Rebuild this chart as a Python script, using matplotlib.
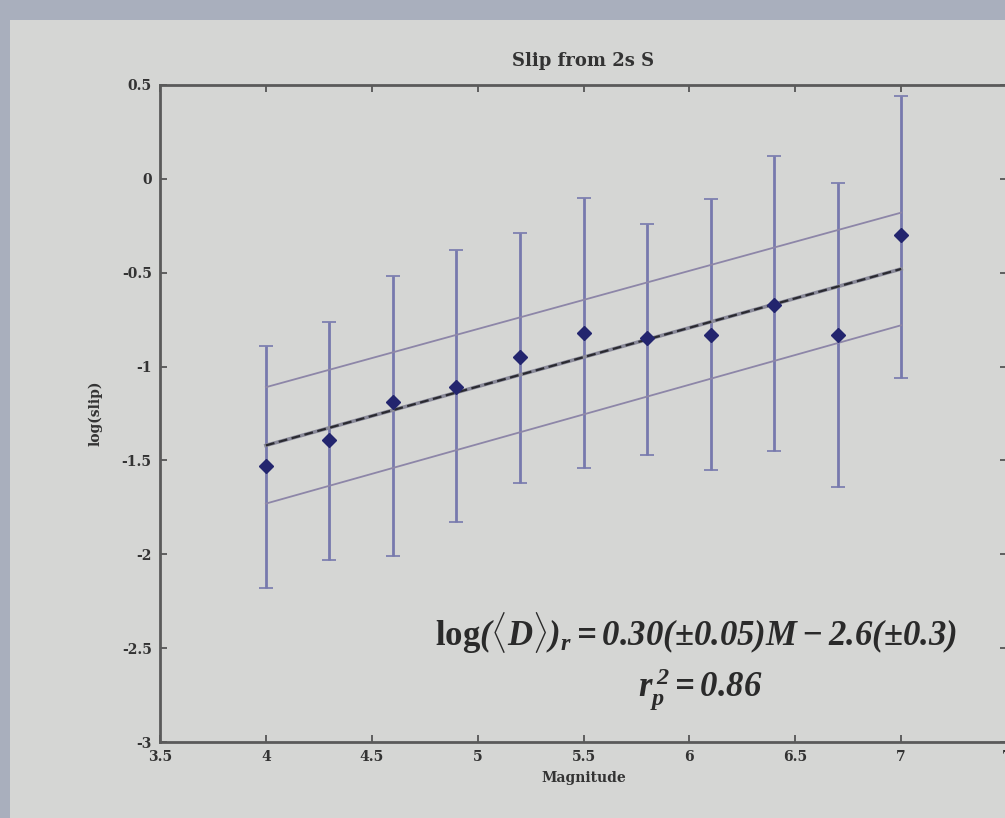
import matplotlib.pyplot as plt
from matplotlib.patches import Rectangle

# magnitude bins and mean log(slip) with +/- 1 sigma bars
magnitude = [4.0, 4.3, 4.6, 4.9, 5.2, 5.5, 5.8, 6.1, 6.4, 6.7, 7.0]
log_slip = [-1.53, -1.39, -1.19, -1.11, -0.95, -0.82, -0.85, -0.83, -0.67, -0.83, -0.30]
err_top = [-0.89, -0.76, -0.52, -0.38, -0.29, -0.10, -0.24, -0.11, 0.12, -0.02, 0.44]
err_bottom = [-2.18, -2.03, -2.01, -1.83, -1.62, -1.54, -1.47, -1.55, -1.45, -1.64, -1.06]

# regression line and its bounds, end points
fit_x = [4.0, 7.0]
fit_y = [-1.42, -0.48]
upper_y = [-1.11, -0.18]
lower_y = [-1.73, -0.78]

xticks = [3.5, 4, 4.5, 5, 5.5, 6, 6.5, 7, 7.5]
xticklabels = ['3.5', '4', '4.5', '5', '5.5', '6', '6.5', '7', '7']
yticks = [-3, -2.5, -2, -1.5, -1, -0.5, 0, 0.5]
yticklabels = ['-3', '-2.5', '-2', '-1.5', '-1', '-0.5', '0', '0.5']

plt.rcParams['font.family'] = ['DejaVu Serif']
# italic digits in the equation: rm is italic, "log" uses bf (upright)
plt.rcParams['mathtext.fontset'] = 'custom'
plt.rcParams['mathtext.rm'] = 'Liberation Serif:italic:bold'
plt.rcParams['mathtext.it'] = 'Liberation Serif:italic:bold'
plt.rcParams['mathtext.bf'] = 'Liberation Serif:bold'

bg = '#d5d6d4'
ink = '#333333'
fig = plt.figure(figsize=(10.05, 8.18), dpi=100, facecolor='#a9afbd')
# light panel of the projected slide
fig.patches.append(Rectangle((0.010, 0), 0.99, 0.975, transform=fig.transFigure,
                             facecolor=bg, edgecolor='none', zorder=-10))

ax = fig.add_axes([0.1592, 0.0929, 0.8428, 0.8032])
ax.set_facecolor(bg)

lower_err = [y - b for y, b in zip(log_slip, err_bottom)]
upper_err = [t - y for y, t in zip(log_slip, err_top)]
ax.errorbar(magnitude, log_slip, yerr=[lower_err, upper_err], fmt='none',
            ecolor='#7779ad', elinewidth=2.0, capsize=5, capthick=1.2, zorder=2)

ax.plot(fit_x, upper_y, color='#8d86a8', lw=1.3, zorder=3)
ax.plot(fit_x, lower_y, color='#8d86a8', lw=1.3, zorder=3)
ax.plot(fit_x, fit_y, color='#8a8a9a', lw=2.6, zorder=3)
ax.plot(fit_x, fit_y, color='#2a2a30', lw=1.6, ls=(0, (4, 2)), zorder=4)

ax.plot(magnitude, log_slip, ls='none', marker='D', ms=7, color='#23256e', zorder=5)

ax.set_xlim(3.5, 7.5)
ax.set_ylim(-3, 0.5)
ax.set_xticks(xticks)
ax.set_xticklabels(xticklabels)
ax.set_yticks(yticks)
ax.set_yticklabels(yticklabels)
ax.tick_params(direction='in', top=True, right=True, length=5, width=1.3,
               color='#555555', labelsize=10, labelcolor=ink, pad=6)
for lab in ax.get_xticklabels() + ax.get_yticklabels():
    lab.set_fontweight('bold')
for s in ax.spines.values():
    s.set_color('#5a5a5a')
    s.set_linewidth(2)

ax.set_title('Slip from 2s S', fontsize=13, fontweight='bold', color=ink, pad=14)
ax.set_xlabel('Magnitude', fontsize=10, fontweight='bold', color=ink, labelpad=5)
ax.set_ylabel('log(slip)', fontsize=10, fontweight='bold', color=ink, labelpad=14)

ax.text(6.03, -2.42,
        r'$\mathbf{log}(\langle D\rangle)_r = 0.30(\pm 0.05)M - 2.6(\pm 0.3)$',
        fontsize=25, color='#2a2a2a', ha='center', va='center')
ax.text(6.05, -2.72, r'$r_p^{\,2} = 0.86$',
        fontsize=25, color='#2a2a2a', ha='center', va='center')

plt.savefig('out.png', dpi=100, facecolor=fig.get_facecolor())
